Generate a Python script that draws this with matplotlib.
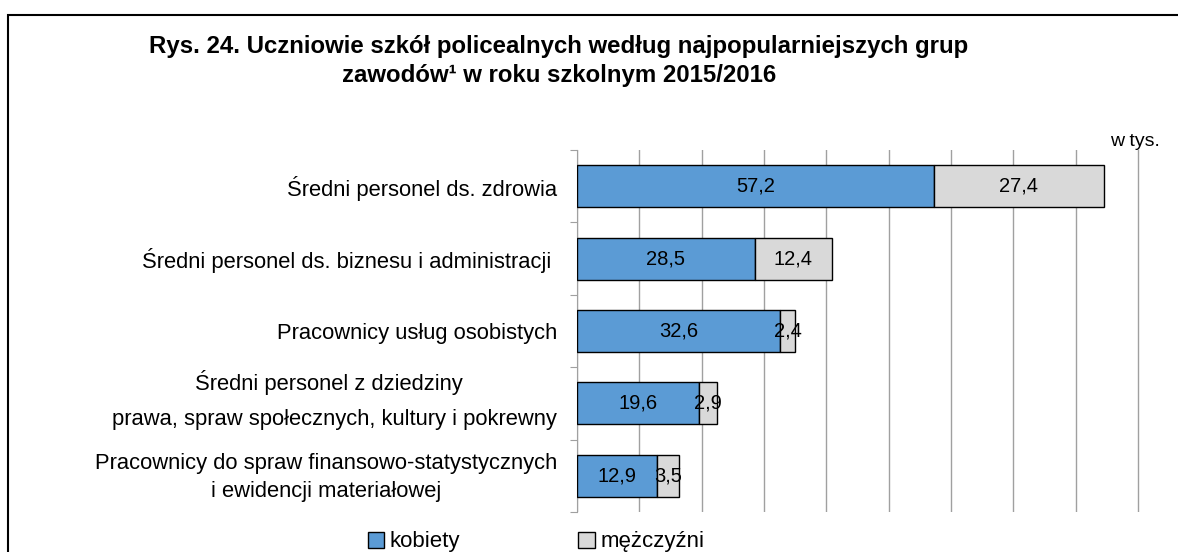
import matplotlib.pyplot as plt
from matplotlib.patches import Rectangle, Patch

plt.rcParams['font.family'] = ['Liberation Sans', 'DejaVu Sans']

# grupy zawodów (od góry)
kategorie = [
    "Średni personel ds. zdrowia",
    "Średni personel ds. biznesu i administracji ",
    "Pracownicy usług osobistych",
    "Średni personel z dziedziny  \nprawa, spraw społecznych, kultury i pokrewny",
    "Pracownicy do spraw finansowo-statystycznych\ni ewidencji materiałowej",
]
kobiety = [57.2, 28.5, 32.6, 19.6, 12.9]
mezczyzni = [27.4, 12.4, 2.4, 2.9, 3.5]

niebieski = "#5B9BD5"
szary = "#D9D9D9"

fig = plt.figure(figsize=(11.78, 5.52), dpi=100)
W, H = 1178, 552
ax = fig.add_axes([577 / W, 1 - 512 / H, (1140 - 577) / W, (512 - 150) / H])

y = list(range(len(kategorie)))
b1 = ax.barh(y, kobiety, height=0.58, color=niebieski, edgecolor="black", linewidth=1, zorder=3)
b2 = ax.barh(y, mezczyzni, left=kobiety, height=0.58, color=szary, edgecolor="black", linewidth=1, zorder=3)

for bars, vals in ((b1, kobiety), (b2, mezczyzni)):
    for r, v in zip(bars, vals):
        ax.text(r.get_x() + r.get_width() / 2, r.get_y() + r.get_height() / 2,
                f"{v:.1f}".replace(".", ","), ha="center", va="center",
                fontsize=14.5, zorder=4)

ax.set_xlim(0, 90 * (1140 - 577) / (1138 - 577))
ax.set_ylim(4.5, -0.5)
ax.set_xticks(range(0, 91, 10))
ax.tick_params(axis="x", length=0, labelbottom=False)
ax.grid(axis="x", color="#A0A0A0", linewidth=1, zorder=0)

# etykiety kategorii rysowane jako tekst (czwarta jest nieco wyżej niż środek słupka)
przesuniecia = [0.028, 0.028, 0.028, -0.05, 0.028]
odstepy = [1.2, 1.2, 1.2, 1.9, 1.45]
for i, (txt, dy, ls) in enumerate(zip(kategorie, przesuniecia, odstepy)):
    ax.annotate(txt, xy=(0, i + dy), xycoords=("axes fraction", "data"),
                xytext=(-20, 0), textcoords="offset pixels", ha="right", va="center",
                fontsize=15.8, multialignment="center", linespacing=ls)

ax.set_yticks([i - 0.5 for i in range(len(kategorie) + 1)])
ax.tick_params(axis="y", length=5, color="#A0A0A0", direction="out", labelleft=False)

for s in ("top", "right", "bottom"):
    ax.spines[s].set_visible(False)
ax.spines["left"].set_color("#A0A0A0")

fig.text(559 / W, 1 - 47 / H, "Rys. 24. Uczniowie szkół policealnych według najpopularniejszych grup",
         ha="center", va="center", fontsize=17.3, fontweight="bold")
fig.text(559 / W, 1 - 76 / H, "zawodów¹ w roku szkolnym 2015/2016",
         ha="center", va="center", fontsize=17.3, fontweight="bold")
fig.text(1160 / W, 1 - 142 / H, "w tys.", ha="right", va="center", fontsize=14)

uchwyty = [Patch(facecolor=niebieski, edgecolor="black"), Patch(facecolor=szary, edgecolor="black")]
fig.legend(uchwyty, ["kobiety", "mężczyźni"], loc="center", bbox_to_anchor=(536 / W, 1 - 542 / H),
           ncol=2, frameon=False, fontsize=16, handlelength=0.75, handleheight=0.75,
           handletextpad=0.25, columnspacing=5.3, borderpad=0)

fig.patches.append(Rectangle((8 / W, -0.1), 2, 1.1 - 15 / H, transform=fig.transFigure,
                             fill=False, edgecolor="black", linewidth=1.5))

fig.savefig("out.png", dpi=100)
